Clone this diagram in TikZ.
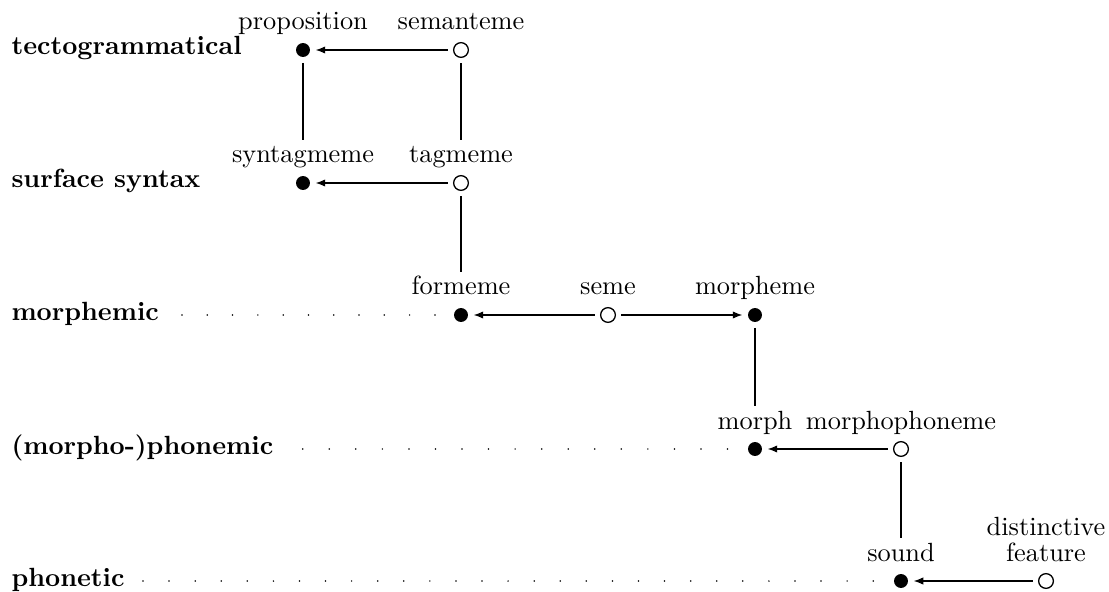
\documentclass[tikz,border=0pt]{standalone}
\usetikzlibrary{arrows.meta}
\begin{document}
\begin{tikzpicture}[x=0.38pt,y=-0.38pt,
  full/.style={circle,fill=black,inner sep=0pt,minimum size=5.3pt},
  hollow/.style={circle,draw=black,line width=0.5pt,fill=white,inner sep=0pt,minimum size=5.6pt},
  term/.style={anchor=base,inner sep=0pt,text height=7pt,text depth=2pt},
  level/.style={anchor=base west,inner sep=0pt,font=\bfseries},
  tie/.style={line width=0.4pt,shorten <=2pt,shorten >=1.5pt},
  realize/.style={line width=0.4pt,-{Latex[length=3.6pt,width=2.8pt]},shorten <=2pt,shorten >=2pt},
  leader/.style={line width=0.65pt,line cap=round,dash pattern=on 0pt off #1},
]
\useasboundingbox (0,0) rectangle (1109,592);

% strata
\node[level] (l1) at (11,55)  {tectogrammatical};
\node[level] (l2) at (11,188) {surface syntax};
\node[level] (l3) at (11,320) {morphemic};
\node[level] (l4) at (11,454) {(morpho-)phonemic};
\node[level] (l5) at (11,586) {phonetic};

% dotted leaders
\draw[leader=9.61pt]  (182,315)   -- (435.5,315);
\draw[leader=10.09pt] (302.7,449) -- (728,449);
\draw[leader=9.91pt]  (143,581)   -- (873.5,581);

% units (filled) and their emic counterparts (hollow)
\node[full]   (prop) at (303,50)  {};
\node[hollow] (sem)  at (461,50)  {};
\node[full]   (synt) at (303,183) {};
\node[hollow] (tag)  at (461,183) {};
\node[full]   (form) at (461,315) {};
\node[hollow] (seme) at (608,315) {};
\node[full]   (mphm) at (755,315) {};
\node[full]   (mrph) at (755,449) {};
\node[hollow] (mphn) at (901,449) {};
\node[full]   (snd)  at (901,581) {};
\node[hollow] (df)   at (1046,581) {};

% names
\node[term] (t-prop) at (303,30)  {proposition};
\node[term] (t-sem)  at (461,30)  {semanteme};
\node[term] (t-synt) at (303,163) {syntagmeme};
\node[term] (t-tag)  at (461,163) {tagmeme};
\node[term] (t-form) at (461,295) {formeme};
\node[term] (t-seme) at (608,295) {seme};
\node[term] (t-mphm) at (755,295) {morpheme};
\node[term] (t-mrph) at (755,429) {morph};
\node[term] (t-mphn) at (901,429) {morphophoneme};
\node[term] (t-snd)  at (901,561) {sound};
\node[anchor=south,inner sep=0pt,align=center] (t-df) at (1046,562) {distinctive\\[-2.2pt]feature};

% realization arrows
\draw[realize] (sem)  -- (prop);
\draw[realize] (tag)  -- (synt);
\draw[realize] (seme) -- (form);
\draw[realize] (seme) -- (mphm);
\draw[realize] (mphn) -- (mrph);
\draw[realize] (df)   -- (snd);

% links between strata
\draw[tie] (prop) -- (t-synt.north);
\draw[tie] (sem)  -- (t-tag.north);
\draw[tie] (tag)  -- (t-form.north);
\draw[tie] (mphm) -- (t-mrph.north);
\draw[tie] (mphn) -- (t-snd.north);
\end{tikzpicture}
\end{document}
